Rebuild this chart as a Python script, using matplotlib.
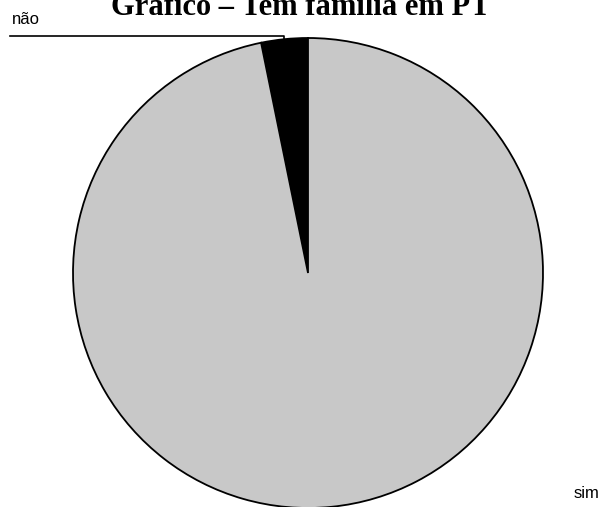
import numpy as np
import matplotlib
matplotlib.use('Agg')
import matplotlib.pyplot as plt

# dados
labels = ['não', 'sim']
values = [3.2, 96.8]
colors = ['#000000', '#c8c8c8']
title = 'Gráfico – Tem família em PT'

W, H = 608, 507
fig = plt.figure(figsize=(W / 100, H / 100), dpi=100)
fig.patch.set_facecolor('white')

# eixo do gráfico de pizza: centro (308, 273) px, raio 235 px
cx, cy, r = 308, 273, 235
ax = fig.add_axes([(cx - r) / W, (H - cy - r) / H, 2 * r / W, 2 * r / H])

wedges, _ = ax.pie(values, colors=colors, startangle=90, counterclock=True,
                   radius=1, wedgeprops=dict(edgecolor='black', linewidth=1.3))
ax.set_xlim(-1, 1)
ax.set_ylim(-1, 1)
ax.axis('off')
for w in wedges:
    w.set_clip_on(False)

# linha guia do rótulo "não"
w0 = wedges[0]
mid = np.deg2rad((w0.theta1 + w0.theta2) / 2)
px, py = np.cos(mid), np.sin(mid)
yline = (H - 36 - (H - cy)) / r
xleft = (10 - cx) / r
ax.plot([px, px, xleft], [py, yline, yline], color='black', lw=1.2, clip_on=False)

fig.text(12 / W, 1 - 19 / H, labels[0], fontsize=12, family='Liberation Sans',
         va='center', ha='left')
fig.text(574 / W, 1 - 493 / H, labels[1], fontsize=12, family='Liberation Sans',
         va='center', ha='left')

fig.text(301 / W, 1 - 15 / H, title, fontsize=22, family='Liberation Serif',
         fontweight='bold', ha='center', va='baseline')

fig.savefig('out.png', dpi=100)
